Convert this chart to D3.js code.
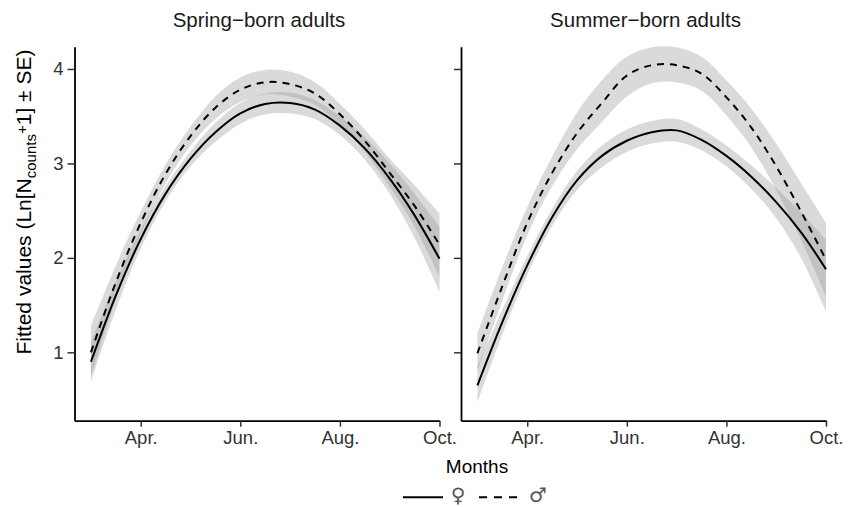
<!DOCTYPE html>
<html>
<head>
<meta charset="utf-8">
<script src="https://cdn.jsdelivr.net/npm/d3@7"></script>
<style>
  body { margin: 0; background: #fff; }
  text { font-family: "Liberation Sans", Arial, sans-serif; }
</style>
</head>
<body>
<div class="chart"></div>
<script>
// months as numbers (3 = Mar. ... 10 = Oct.)
const months = [3, 3.5, 4, 4.5, 5, 5.5, 6, 6.5, 7, 7.5, 8, 8.5, 9, 9.5, 10];
const monthTicks = [4, 6, 8, 10];
const monthLabels = ["Apr.", "Jun.", "Aug.", "Oct."];
const yTicks = [1, 2, 3, 4];
const panelTitles = ["Spring\u2212born adults", "Summer\u2212born adults"];

// spring-born, females (solid) and males (dashed)
const springF = [0.90, 1.60, 2.20, 2.68, 3.05, 3.33, 3.53, 3.63, 3.64, 3.57, 3.40, 3.16, 2.84, 2.45, 1.99];
const springFlo = [0.69, 1.45, 2.10, 2.60, 2.97, 3.23, 3.42, 3.52, 3.53, 3.47, 3.30, 3.04, 2.68, 2.21, 1.64];
const springFhi = [1.10, 1.75, 2.30, 2.76, 3.13, 3.43, 3.64, 3.74, 3.75, 3.67, 3.50, 3.28, 3.00, 2.68, 2.33];
const springM = [1.00, 1.74, 2.37, 2.89, 3.29, 3.59, 3.78, 3.86, 3.84, 3.74, 3.52, 3.24, 2.90, 2.55, 2.14];
const springMlo = [0.74, 1.56, 2.25, 2.79, 3.19, 3.47, 3.65, 3.73, 3.71, 3.62, 3.41, 3.12, 2.75, 2.33, 1.80];
const springMhi = [1.28, 1.92, 2.49, 2.99, 3.39, 3.71, 3.91, 3.99, 3.97, 3.86, 3.63, 3.36, 3.05, 2.77, 2.47];

// summer-born
const summerF = [0.65, 1.32, 1.92, 2.43, 2.82, 3.08, 3.24, 3.33, 3.35, 3.25, 3.08, 2.86, 2.59, 2.27, 1.88];
const summerFlo = [0.47, 1.19, 1.82, 2.34, 2.72, 2.96, 3.12, 3.21, 3.23, 3.14, 2.97, 2.73, 2.42, 2.00, 1.43];
const summerFhi = [0.85, 1.45, 2.02, 2.52, 2.92, 3.19, 3.36, 3.45, 3.47, 3.36, 3.19, 2.98, 2.74, 2.48, 2.19];
const summerM = [0.99, 1.70, 2.37, 2.90, 3.32, 3.64, 3.93, 4.04, 4.04, 3.95, 3.70, 3.38, 2.97, 2.49, 1.98];
const summerMlo = [0.80, 1.55, 2.24, 2.76, 3.15, 3.44, 3.71, 3.85, 3.86, 3.77, 3.51, 3.17, 2.72, 2.19, 1.59];
const summerMhi = [1.20, 1.90, 2.54, 3.07, 3.54, 3.88, 4.13, 4.23, 4.23, 4.13, 3.88, 3.58, 3.21, 2.79, 2.37];

const W = 854, H = 507;
const plotTop = 46.7, plotBottom = 420.7;
const panelW = 365;
const panelX = [74.5, 461];

const svg = d3.select(".chart").append("svg")
  .attr("width", W)
  .attr("height", H);

const x = d3.scaleLinear().domain([2.67, 10]).range([0, panelW]);
const y = d3.scaleLinear().domain([0.276, 4.236]).range([plotBottom - plotTop, 0]);

const band = d3.area()
  .x(d => x(d.m))
  .y0(d => y(d.lo))
  .y1(d => y(d.hi))
  .curve(d3.curveCatmullRom);

const line = d3.line()
  .x(d => x(d.m))
  .y(d => y(d.v))
  .curve(d3.curveCatmullRom);

function makeSeries(fit, lo, hi) {
  return months.map((m, i) => ({ m: m, v: fit[i], lo: lo[i], hi: hi[i] }));
}

const panels = [
  [makeSeries(springF, springFlo, springFhi), makeSeries(springM, springMlo, springMhi)],
  [makeSeries(summerF, summerFlo, summerFhi), makeSeries(summerM, summerMlo, summerMhi)]
];

panels.forEach((series, p) => {
  const g = svg.append("g")
    .attr("transform", "translate(" + panelX[p] + "," + plotTop + ")");

  // SE ribbons
  series.forEach(s => {
    g.append("path")
      .attr("d", band(s))
      .attr("fill", "#999")
      .attr("fill-opacity", 0.36);
  });

  // fitted lines: female solid, male dashed
  series.forEach((s, i) => {
    g.append("path")
      .attr("d", line(s))
      .attr("fill", "none")
      .attr("stroke", "#000")
      .attr("stroke-width", 2)
      .attr("stroke-dasharray", i === 1 ? "7,6" : null);
  });

  const xAxis = g.append("g")
    .attr("transform", "translate(0," + (plotBottom - plotTop) + ")")
    .call(d3.axisBottom(x).tickValues(monthTicks)
      .tickFormat((d, i) => monthLabels[i]).tickSizeInner(6).tickSizeOuter(0).tickPadding(4));

  const yAxis = g.append("g")
    .call(d3.axisLeft(y).tickValues(yTicks)
      .tickFormat(p === 0 ? d3.format("d") : "").tickSizeInner(7).tickSizeOuter(0).tickPadding(4));

  [xAxis, yAxis].forEach(a => {
    a.select(".domain").attr("stroke", "#000").attr("stroke-width", 1.8);
    a.selectAll(".tick line").attr("stroke", "#333").attr("stroke-width", 1.5);
    a.selectAll(".tick text")
      .attr("fill", "#333")
      .style("font-size", "18.5px")
      .style("font-family", "'Liberation Sans', Arial, sans-serif");
  });

  svg.append("text")
    .attr("x", panelX[p] + panelW / 2 + 2)
    .attr("y", 27)
    .attr("text-anchor", "middle")
    .attr("fill", "#1a1a1a")
    .style("font-size", "20.5px")
    .text(panelTitles[p]);
});

// axis titles
svg.append("text")
  .attr("x", 477)
  .attr("y", 473)
  .attr("text-anchor", "middle")
  .attr("fill", "#000")
  .style("font-size", "19px")
  .text("Months");

const yLab = svg.append("text")
  .attr("transform", "translate(31,202) rotate(-90)")
  .attr("text-anchor", "middle")
  .attr("fill", "#000")
  .style("font-size", "21px");
yLab.append("tspan").text("Fitted values (Ln[N");
yLab.append("tspan").attr("dy", 5).style("font-size", "15px").text("counts");
yLab.append("tspan").attr("dy", -9).style("font-size", "15px").text("+");
yLab.append("tspan").attr("dy", 4).text("1] \u00b1 SE)");

// legend
const legendY = 497.3;
const legend = svg.append("g");
legend.append("line")
  .attr("x1", 403).attr("x2", 443)
  .attr("y1", legendY).attr("y2", legendY)
  .attr("stroke", "#000").attr("stroke-width", 2);
legend.append("text")
  .attr("x", 458).attr("y", legendY + 4.5)
  .attr("text-anchor", "middle")
  .attr("fill", "#555")
  .style("font-family", "'DejaVu Sans', sans-serif")
  .style("font-size", "20px")
  .text("\u2640");
legend.append("line")
  .attr("x1", 479).attr("x2", 517)
  .attr("y1", legendY).attr("y2", legendY)
  .attr("stroke", "#000").attr("stroke-width", 2)
  .attr("stroke-dasharray", "8,7");
legend.append("text")
  .attr("x", 538).attr("y", legendY + 4.5)
  .attr("text-anchor", "middle")
  .attr("fill", "#555")
  .style("font-family", "'DejaVu Sans', sans-serif")
  .style("font-size", "20px")
  .text("\u2642");
</script>
</body>
</html>
